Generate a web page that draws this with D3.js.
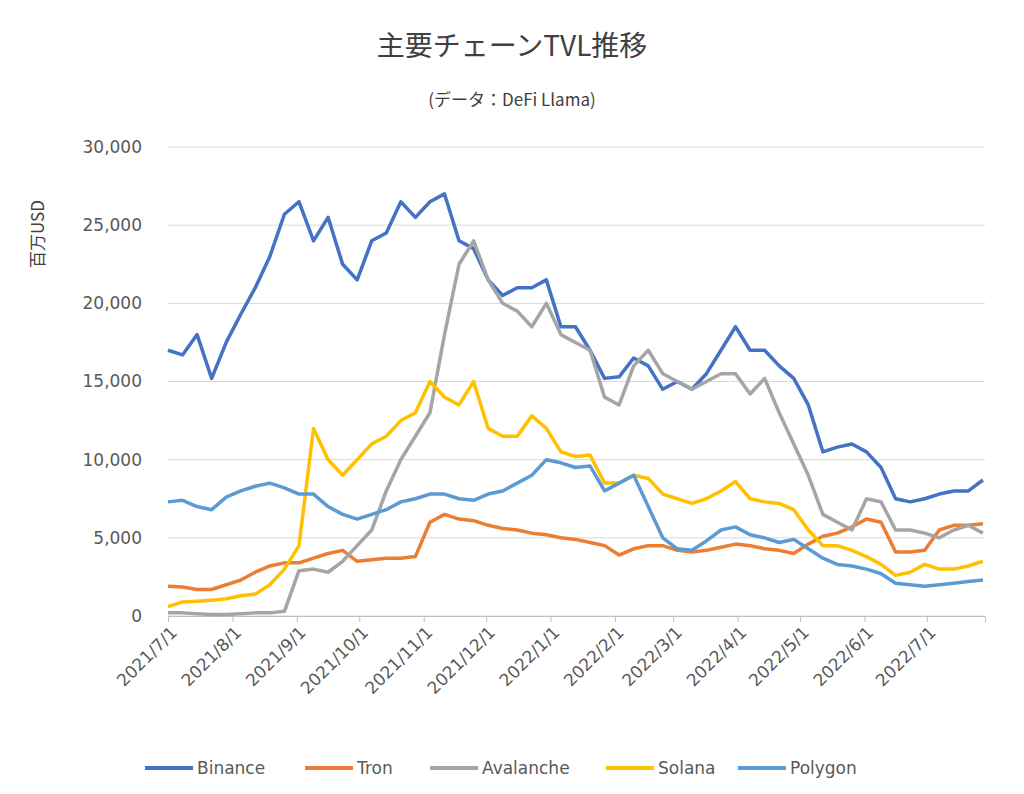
<!DOCTYPE html>
<html lang="ja">
<head>
<meta charset="UTF-8">
<script src="https://d3js.org/d3.v7.min.js"></script>
<style>
body { margin:0; background:#fff; font-family:"Noto Sans CJK JP","Noto Sans",sans-serif; }
</style>
</head>
<body>
<script>
const seriesNames = ["Binance", "Tron", "Avalanche", "Solana", "Polygon"];
const colors = ["#4472C4", "#ED7D31", "#A5A5A5", "#FFC000", "#5B9BD5"];
const tickLabels = ["2021/7/1","2021/8/1","2021/9/1","2021/10/1","2021/11/1","2021/12/1","2022/1/1","2022/2/1","2022/3/1","2022/4/1","2022/5/1","2022/6/1","2022/7/1"];

// weekly samples starting 2021-07-01
const binance = [17000,16700,18000,15200,17500,19300,21000,23000,25700,26500,24000,25500,22500,21500,24000,24500,26500,25500,26500,27000,24000,23500,21500,20500,21000,21000,21500,18500,18500,17000,15200,15300,16500,16000,14500,15000,14500,15500,17000,18500,17000,17000,16000,15200,13500,10500,10800,11000,10500,9500,7500,7300,7500,7800,8000,8000,8700];
const tron = [1900,1850,1700,1700,2000,2300,2800,3200,3400,3400,3700,4000,4200,3500,3600,3700,3700,3800,6000,6500,6200,6100,5800,5600,5500,5300,5200,5000,4900,4700,4500,3900,4300,4500,4500,4200,4100,4200,4400,4600,4500,4300,4200,4000,4600,5100,5300,5700,6200,6000,4100,4100,4200,5500,5800,5800,5900];
const avalanche = [200,200,150,100,100,150,200,200,300,2900,3000,2800,3500,4500,5500,8000,10000,11500,13000,18000,22500,24000,21500,20000,19500,18500,20000,18000,17500,17000,14000,13500,16000,17000,15500,15000,14500,15000,15500,15500,14200,15200,13000,11000,9000,6500,6000,5500,7500,7300,5500,5500,5300,5000,5500,5800,5300];
const solana = [600,900,950,1000,1100,1300,1400,2000,3000,4500,12000,10000,9000,10000,11000,11500,12500,13000,15000,14000,13500,15000,12000,11500,11500,12800,12000,10500,10200,10300,8500,8500,9000,8800,7800,7500,7200,7500,8000,8600,7500,7300,7200,6800,5500,4500,4500,4200,3800,3300,2600,2800,3300,3000,3000,3200,3500];
const polygon = [7300,7400,7000,6800,7600,8000,8300,8500,8200,7800,7800,7000,6500,6200,6500,6800,7300,7500,7800,7800,7500,7400,7800,8000,8500,9000,10000,9800,9500,9600,8000,8500,9000,7000,5000,4300,4200,4800,5500,5700,5200,5000,4700,4900,4300,3700,3300,3200,3000,2700,2100,2000,1900,2000,2100,2200,2300];
const allSeries = [binance, tron, avalanche, solana, polygon];

const start = new Date(2021, 6, 1);
const dates = binance.map((_, i) => d3.timeDay.offset(start, i * 7));
const tickDates = tickLabels.map(s => { const p = s.split("/"); return new Date(+p[0], +p[1] - 1, +p[2]); });

const W = 1024, H = 794;
const m = { left: 168, right: 985, top: 147, bottom: 616 };
const latin = "'DejaVu Sans', Verdana, sans-serif";

const svg = d3.select("body").append("svg").attr("width", W).attr("height", H);

const x = d3.scaleTime().domain([start, new Date(2022, 6, 29)]).range([m.left, m.right]);
const y = d3.scaleLinear().domain([0, 30000]).range([m.bottom, m.top]);

// gridlines
svg.append("g").selectAll("line").data(y.ticks(6)).join("line")
  .attr("x1", m.left).attr("x2", m.right)
  .attr("y1", d => y(d)).attr("y2", d => y(d))
  .attr("stroke", "#d9d9d9").attr("stroke-width", 1);

// y axis labels
svg.append("g").selectAll("text").data(y.ticks(6)).join("text")
  .attr("x", 142).attr("y", d => y(d)).attr("dy", "0.35em")
  .attr("text-anchor", "end").attr("fill", "#595959")
  .style("font-family", latin).style("font-size", "17px")
  .text(d3.format(","));

// x axis
const xAxis = svg.append("g").attr("transform", `translate(0,${m.bottom})`)
  .call(d3.axisBottom(x).tickValues(tickDates).tickSize(6).tickFormat((d, i) => tickLabels[i]));
xAxis.select(".domain").attr("stroke", "#bfbfbf");
xAxis.selectAll(".tick line").attr("stroke", "#bfbfbf");
xAxis.selectAll("text")
  .attr("transform", "translate(-4,4) rotate(-45)")
  .style("text-anchor", "end")
  .attr("dx", 0).attr("dy", "0.6em")
  .attr("fill", "#595959")
  .style("font-family", latin).style("font-size", "17px");

// lines
const line = d3.line().x((d, i) => x(dates[i])).y(d => y(d)).curve(d3.curveLinear);
allSeries.forEach((s, k) => {
  svg.append("path").datum(s).attr("d", line)
    .attr("fill", "none").attr("stroke", colors[k]).attr("stroke-width", 3.5)
    .attr("stroke-linejoin", "round");
});

// titles
svg.append("text").attr("x", 512).attr("y", 56).attr("text-anchor", "middle")
  .attr("fill", "#404040").style("font-size", "28px").text("主要チェーンTVL推移");
svg.append("text").attr("x", 512).attr("y", 106).attr("text-anchor", "middle")
  .attr("fill", "#404040").style("font-size", "17px").text("(データ：DeFi Llama)");
svg.append("text").attr("transform", "translate(44,234) rotate(-90)").attr("text-anchor", "middle")
  .attr("fill", "#404040").style("font-size", "17px").text("百万USD");

// legend
const legX = [145, 305, 430, 606, 738];
seriesNames.forEach((n, k) => {
  const g = svg.append("g").attr("transform", `translate(${legX[k]},768)`);
  g.append("line").attr("x1", 0).attr("x2", 48).attr("stroke", colors[k]).attr("stroke-width", 4);
  g.append("text").attr("x", 52).attr("dy", "0.35em").attr("fill", "#595959")
    .style("font-family", latin).style("font-size", "17px").text(n);
});
</script>
</body>
</html>
